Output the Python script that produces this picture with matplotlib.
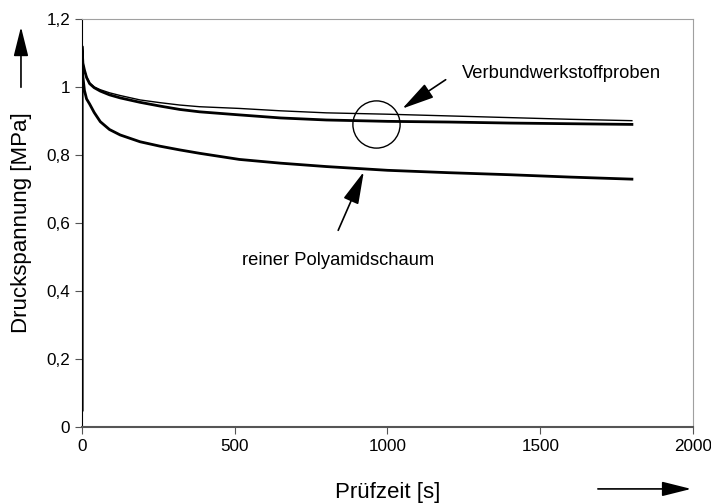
import numpy as np
import matplotlib.pyplot as plt

plt.rcParams['font.family'] = ['Liberation Sans', 'DejaVu Sans']

# Prüfzeit [s]
t = [0, 0, 3, 8, 15, 25, 40, 60, 90, 125, 190, 255, 320, 385, 515, 650,
     800, 1000, 1200, 1400, 1600, 1800]

# Verbundwerkstoffproben (zwei Proben)
verbund_1 = [0.05, 1.12, 1.07, 1.05, 1.03, 1.012, 1.0, 0.992, 0.983, 0.975,
             0.962, 0.954, 0.947, 0.942, 0.937, 0.930, 0.924, 0.920, 0.915,
             0.910, 0.905, 0.901]
verbund_2 = [0.05, 1.12, 1.07, 1.05, 1.028, 1.01, 0.998, 0.988, 0.977, 0.968,
             0.955, 0.944, 0.934, 0.927, 0.918, 0.909, 0.903, 0.899, 0.897,
             0.894, 0.892, 0.890]

# reiner Polyamidschaum
polyamid = [0.05, 1.05, 1.03, 0.99, 0.965, 0.95, 0.925, 0.898, 0.875, 0.859,
            0.839, 0.826, 0.815, 0.805, 0.787, 0.776, 0.766, 0.755, 0.748,
            0.742, 0.735, 0.729]

y_ticks = [0, 0.2, 0.4, 0.6, 0.8, 1.0, 1.2]
y_labels = ['0', '0,2', '0,4', '0,6', '0,8', '1', '1,2']
x_ticks = [0, 500, 1000, 1500, 2000]

fig = plt.figure(figsize=(7.11, 5.03), dpi=100)
ax = fig.add_axes([0.1153, 0.1511, 0.8594, 0.8111])

ax.plot(t, verbund_1, color='black', lw=1.0)
ax.plot(t, verbund_2, color='black', lw=2.0)
ax.plot(t, polyamid, color='black', lw=2.0)

# Kreis um die Verbundkurven
ax.plot([962], [0.891], marker='o', markersize=34, mfc='none', mec='black', mew=1.0)

arrow = dict(arrowstyle='-|>,head_length=1.0,head_width=0.25', color='black',
             lw=1.2, mutation_scale=20)
ax.annotate('', xy=(1041, 0.932), xytext=(1198, 1.026), arrowprops=arrow)
ax.text(1244, 1.041, 'Verbundwerkstoffproben', fontsize=13.2, ha='left', va='center')
ax.annotate('', xy=(926, 0.758), xytext=(835, 0.571), arrowprops=arrow)
ax.text(524, 0.491, 'reiner Polyamidschaum', fontsize=13.2, ha='left', va='center')

ax.set_xlim(0, 2000)
ax.set_ylim(0, 1.2)
ax.set_xticks(x_ticks)
ax.set_yticks(y_ticks)
ax.set_yticklabels(y_labels)
ax.tick_params(labelsize=12.3, length=5, direction='out', color='#555555')

for side in ['top', 'right']:
    ax.spines[side].set_color('#a0a0a0')
ax.spines['bottom'].set_color('#555555')
ax.spines['bottom'].set_linewidth(1.5)
ax.spines['left'].set_color('black')

ax.set_xlabel('Prüfzeit [s]', fontsize=16, labelpad=20)
ax.set_ylabel('Druckspannung [MPa]', fontsize=16, labelpad=10)

# Pfeile an den Achsenbeschriftungen
fig_arrow = dict(arrowstyle='-|>,head_length=1.0,head_width=0.25', color='black',
                 lw=1.2, mutation_scale=18)
ax.annotate('', xy=(0.0295, 0.952), xytext=(0.0295, 0.821),
            xycoords='figure fraction', textcoords='figure fraction', arrowprops=fig_arrow)
ax.annotate('', xy=(0.976, 0.028), xytext=(0.837, 0.028),
            xycoords='figure fraction', textcoords='figure fraction', arrowprops=fig_arrow)

fig.savefig('out.png', dpi=100)
